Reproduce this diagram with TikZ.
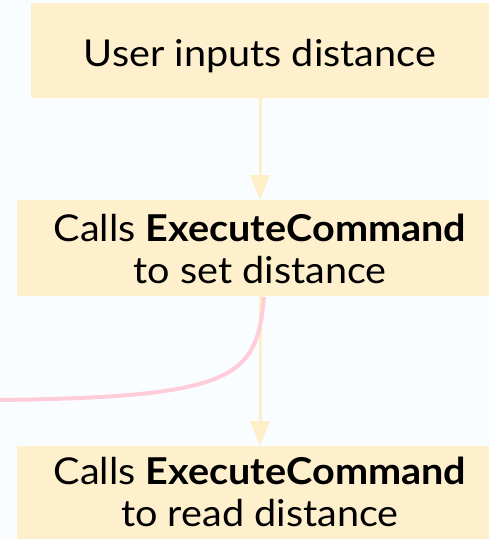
\documentclass[tikz,border=0pt]{standalone}
\usepackage{fontspec}
\setmainfont{Lato}[FakeStretch=1.07]
\usetikzlibrary{arrows.meta}
\definecolor{bg}{HTML}{FAFDFF}
\definecolor{boxfill}{HTML}{FFF0CD}
\definecolor{flow}{HTML}{FFEFC9}
\definecolor{pinkline}{HTML}{FFCCD9}
\begin{document}
\begin{tikzpicture}[x=1pt,y=-1pt,
  label/.style={inner sep=0pt,anchor=base,font=\fontsize{37}{42}\selectfont},
  flowarrow/.style={draw=flow,line width=3pt,
    -{Triangle[length=25pt,width=19pt]}}]
\useasboundingbox (0,0) rectangle (489,539);
\fill[bg] (0,0) rectangle (489,539);
% boxes
\fill[boxfill] (31,3) rectangle (489,98);
\fill[boxfill] (17,200) rectangle (489,296);
\fill[boxfill] (17,446) rectangle (489,539);
% texts
\node[label] (a) at (260,66) {User inputs distance};
\node[label] (b1) at (260,241) {Calls \textbf{ExecuteCommand}};
\node[label] (b2) at (260,283) {to set distance};
\node[label] (c1) at (260,484) {Calls \textbf{ExecuteCommand}};
\node[label] (c2) at (260,526) {to read distance};
% connector end points on the box edges
\coordinate (aB) at (260,98);
\coordinate (bT) at (260,200);
\coordinate (bB) at (260,296);
\coordinate (cT) at (260,446);
\coordinate (pS) at (264,297);
\coordinate (pE) at (0,400);
\draw[flowarrow] (aB) -- (bT);
\draw[flowarrow] (bB) -- (cT);
\draw[pinkline,line width=4pt] (pS) .. controls (257,378) and (235,397) .. (pE);
\end{tikzpicture}
\end{document}
